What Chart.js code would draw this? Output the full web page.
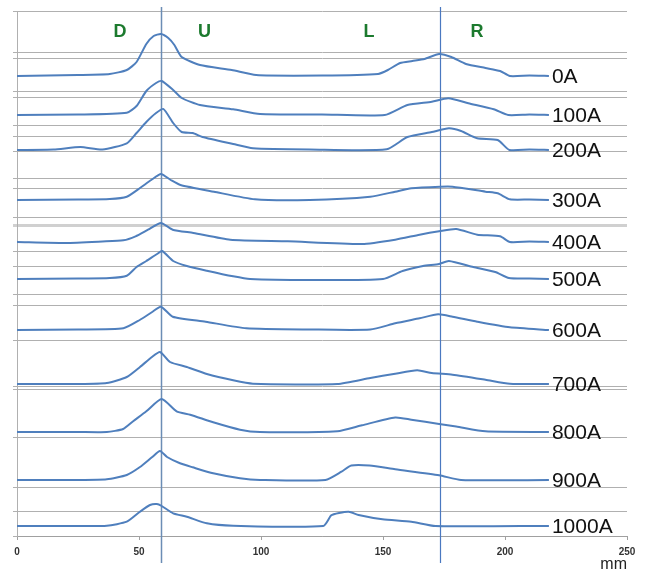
<!DOCTYPE html>
<html>
<head>
<meta charset="utf-8">
<script src="https://cdn.jsdelivr.net/npm/chart.js@4"></script>
<style>
  body { margin: 0; background: #fff; }
  #wrap { width: 646px; height: 574px; }
</style>
</head>
<body>
<div id="wrap"><canvas id="myChart"></canvas></div>
<script>
// current labels, one trace per current
var labels = ["0A", "100A", "200A", "300A", "400A", "500A", "600A", "700A", "800A", "900A", "1000A"];

// baseline of each trace (stack offset)
var offsets = [460, 421, 386, 336, 294, 257, 206, 152, 104, 56, 10];

// x positions (mm) of read-off points, per trace
var traceX = [
  [0, 25, 38, 45, 49, 53, 56, 59, 62, 64.5, 67.5, 75, 88, 98, 125, 148, 152, 157, 162, 167, 173, 178, 184, 192, 198, 202, 210, 218],
  [0, 25, 45, 49, 53, 57, 59.3, 64, 67.5, 75, 88.6, 99.6, 125, 150.7, 160, 170, 176.8, 185, 195.4, 201.3, 210, 218],
  [0, 15, 26, 35, 45, 49, 53, 57, 60, 64, 67.5, 72, 76, 88.6, 96.7, 120, 151.5, 160, 170, 177, 182, 188.6, 197, 201.8, 210, 218],
  [0, 25, 38, 45, 50.4, 55, 59, 63, 67, 80.7, 97.5, 120, 144.8, 155, 161.6, 173.4, 178.5, 192, 197, 202, 210, 218],
  [0, 20, 35, 43.6, 48.6, 53.7, 59, 63.8, 72.3, 87.4, 111, 141.4, 155, 165, 173, 180, 188.6, 198, 202, 210, 218],
  [0, 25, 38, 45, 49, 53, 57.4, 59.5, 64, 69.6, 77.8, 88.6, 95.5, 120, 150, 158, 166.4, 173, 177, 187, 196, 201.6, 210, 218],
  [0, 25, 43.6, 50.3, 55.4, 59, 63.8, 77.3, 94, 120, 144.8, 155, 165, 172.6, 178.5, 188.6, 202, 218],
  [0, 25, 36.8, 45, 50.4, 55.3, 58.6, 62.7, 69.6, 77.8, 88.6, 96.7, 131.3, 144.8, 155, 164, 170, 178.5, 192, 202, 218],
  [0, 25, 36.8, 43.5, 47.6, 53, 59.3, 65.4, 71, 80.4, 91.4, 99.6, 131.3, 141.4, 155, 161.6, 173, 180, 192, 218],
  [0, 25, 36.8, 45, 50.4, 55.3, 58.6, 61.5, 66.8, 72, 80.4, 91.4, 99.6, 126.4, 133, 137, 144.5, 155, 173, 182, 218],
  [0, 25, 36.8, 45, 50.4, 54.5, 57.3, 59.3, 64, 69.6, 77.8, 88.6, 125.5, 128.8, 132, 136, 140, 149.8, 161.6, 171.5, 218]
];

// signal height above the baseline at those points
var traceH = [
  [0, 1, 2, 6, 14, 32, 40, 42, 38, 31, 19, 11, 6, 1, 0.5, 2, 6, 13, 15, 17, 22, 19, 12, 8, 5, 0, 0.5, 0],
  [0, 0.5, 2.3, 9, 24, 32, 34, 25, 17, 10, 5.7, 1, 0.5, 0, 10, 13.3, 16.7, 11.7, 5.7, 0, 0.5, 0],
  [0, 0.5, 3, 0.5, 6.7, 17, 28, 37, 41, 27, 18, 17, 13, 6, 1.7, 0.5, 0.7, 13, 18, 21.7, 19, 11.7, 10, 0, 0.5, 0],
  [0, 0.5, 1, 3.3, 12, 20, 26, 20, 15, 8.3, 0.7, 0, 3.3, 8.3, 11.7, 13.3, 13.3, 8.3, 6.7, 0.7, 0.5, 0],
  [0, -1, 0.5, 1.7, 5.7, 12.3, 19, 12.3, 9, 2.3, 0.7, -2, 2.3, 7.3, 10.7, 13, 7.3, 5.7, 0, 0.5, 0],
  [0, 0.5, 1, 3.3, 12, 18, 25, 28, 18, 13, 8.3, 2.7, 0, -1, 0, 8, 13, 15, 18, 12, 7, 1, 0.5, 0],
  [0, 0.5, 1.7, 10, 18, 23.3, 13.3, 8.3, 1.7, 0.5, 0.5, 6.7, 11.7, 15.7, 13.3, 8.3, 2.7, 0],
  [0, 0, 1, 7, 17, 27, 32, 22, 17, 10, 3.7, 0.3, 0, 6, 10.3, 13.7, 11, 9.3, 4.3, 0.3, 0],
  [0, 0, 0, 3, 10.7, 20.7, 33, 20.7, 17.3, 9.7, 2.3, 0, 0.7, 6.7, 14.5, 12.3, 8, 5.5, 0.7, 0],
  [0, 0, 0.7, 5, 13, 22.7, 29, 23, 16.7, 12.7, 6.7, 1.7, 0, 0, 8.3, 14.5, 14.5, 10.7, 4.7, 0, 0],
  [0, 0, 0.3, 4.3, 14.3, 21, 22, 20, 12.7, 9.3, 2.7, 0.3, 0, 10.7, 13, 14.2, 11, 6.7, 4.3, 0, 0]
];

// horizontal rules of the stitched scan
var gridValues = [525, 484, 477, 444, 439, 411, 400, 385, 358, 348, 319, 311, 285, 270, 242, 231, 196, 150, 147, 99, 49, 25, 0];

var markerX = [59, 173.2];
var zoneLabels = ["D", "U", "L", "R"];
var zoneX = [42.2, 76.8, 144.3, 188.5];

var datasets = labels.map(function (lab, i) {
  return {
    label: lab,
    data: traceX[i].map(function (x, j) {
      return { x: x, y: offsets[i] + traceH[i][j] };
    }),
    borderColor: "#4f7fbd",
    borderWidth: 2,
    pointRadius: 0,
    tension: 0.2,
    fill: false
  };
});

var overlay = {
  id: "overlay",
  beforeDatasetsDraw: function (chart) {
    var c = chart.ctx, xs = chart.scales.x;
    c.save();
    markerX.forEach(function (m, k) {
      var px = Math.round(xs.getPixelForValue(m)) + 0.5;
      c.strokeStyle = k === 0 ? "#6b8db5" : "#4a78c0";
      c.lineWidth = k === 0 ? 1.5 : 1.2;
      c.beginPath();
      c.moveTo(px, 7);
      c.lineTo(px, 563);
      c.stroke();
    });
    c.restore();
  },
  afterDatasetsDraw: function (chart) {
    var c = chart.ctx, xs = chart.scales.x, ys = chart.scales.y;
    c.save();
    c.fillStyle = "#1c7a2e";
    c.font = "bold 18px 'Liberation Sans', Arial, sans-serif";
    c.textAlign = "center";
    c.textBaseline = "middle";
    zoneLabels.forEach(function (t, k) {
      c.fillText(t, xs.getPixelForValue(zoneX[k]), ys.getPixelForValue(504));
    });
    c.fillStyle = "#111";
    c.font = "21px 'Liberation Sans', Arial, sans-serif";
    c.textAlign = "left";
    labels.forEach(function (t, i) {
      var last = traceX[i][traceX[i].length - 1];
      c.fillText(t, xs.getPixelForValue(last) + 3, ys.getPixelForValue(offsets[i]) + 1);
    });
    c.restore();
  }
};

var ctx = document.getElementById("myChart").getContext("2d");
var myChart = new Chart(ctx, {
  type: "line",
  data: { datasets: datasets },
  options: {
    responsive: true,
    maintainAspectRatio: false,
    animation: false,
    layout: { padding: { left: 13, right: 19, top: 11, bottom: 0 } },
    plugins: {
      legend: { display: false },
      tooltip: { enabled: false }
    },
    scales: {
      x: {
        type: "linear",
        min: 0,
        max: 250,
        ticks: {
          stepSize: 50,
          padding: 6,
          color: "#333",
          font: { family: "'Liberation Sans', Arial, sans-serif", size: 10, weight: "bold" }
        },
        grid: { drawOnChartArea: false, tickLength: 4, color: "#a0a0a0" },
        border: { color: "#a0a0a0" },
        title: {
          display: true,
          text: "mm",
          align: "end",
          color: "#222",
          padding: 0,
          font: { family: "'Liberation Sans', Arial, sans-serif", size: 16 }
        },
        afterFit: function (s) { s.height = 38; }
      },
      y: {
        type: "linear",
        min: 0,
        max: 525,
        ticks: { display: false },
        afterBuildTicks: function (s) {
          s.ticks = gridValues.map(function (v) { return { value: v }; });
        },
        grid: {
          tickLength: 4,
          color: function (c) { return c.tick && c.tick.value === 311 ? "#d0d0d0" : "#b0b0b0"; },
          lineWidth: function (c) { return c.tick && c.tick.value === 311 ? 3 : 1; }
        },
        border: { color: "#b0b0b0" }
      }
    }
  },
  plugins: [overlay]
});
</script>
</body>
</html>
